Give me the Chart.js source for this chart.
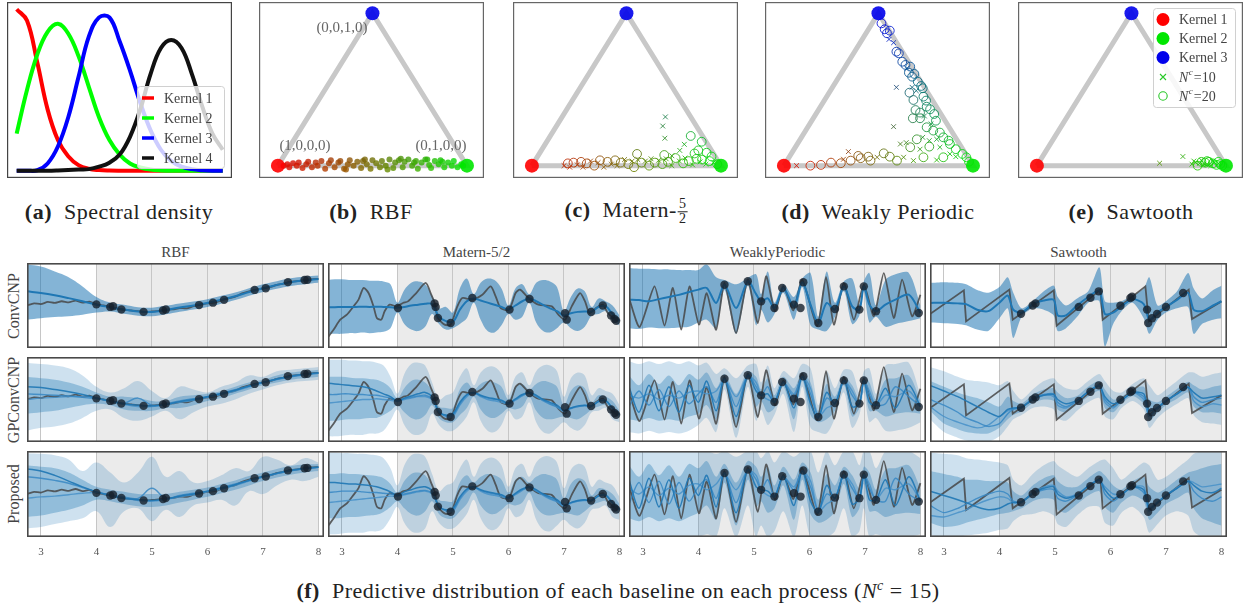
<!DOCTYPE html>
<html>
<head>
<meta charset="utf-8">
<script src="https://cdn.jsdelivr.net/npm/chart.js@4.4.1/dist/chart.umd.min.js"></script>
<style>
  body { margin: 0; width: 1246px; height: 604px; background: #fff; position: relative; overflow: hidden; font-family: "Liberation Serif", serif; }
  canvas { position: absolute; }
  .t { position: absolute; transform: translate(-50%, -50%); white-space: nowrap; color: #222; }
  .cap { font-size: 22px; letter-spacing: 0.5px; }
  .ttl { font-size: 15px; color: #444; }
  .row { font-size: 16px; color: #444; transform: translate(-50%, -50%) rotate(-90deg); }
  .vlab { font-size: 15px; color: #666; }
  .frac { display: inline-block; vertical-align: middle; text-align: center; font-size: 14px; line-height: 14px; margin-left: 1px; }
  .frac span { display: block; }
  .frac span:first-child { border-bottom: 1px solid #222; padding: 0 1px; }
</style>
</head>
<body>
<script>
// ---------- (a) spectral density ----------
const specX = [0, 0.05, 0.1, 0.15, 0.2, 0.25, 0.3, 0.35, 0.4, 0.45, 0.5, 0.55, 0.6, 0.65, 0.7, 0.75, 0.8, 0.85, 0.9, 0.95, 1.0];
const specK1 = [1.0, 0.93, 0.67, 0.38, 0.19, 0.09, 0.035, 0.012, 0.004, 0.001, 0, 0, 0, 0, 0, 0, 0, 0, 0, 0, 0];
const specK2 = [0.23, 0.5, 0.72, 0.86, 0.91, 0.85, 0.71, 0.52, 0.33, 0.19, 0.1, 0.045, 0.02, 0.007, 0.002, 0, 0, 0, 0, 0, 0];
const specK3 = [0, 0, 0.003, 0.045, 0.15, 0.33, 0.58, 0.83, 0.95, 0.95, 0.8, 0.62, 0.42, 0.25, 0.13, 0.06, 0.025, 0.01, 0.003, 0, 0];
const specK4 = [0, 0, 0, 0, 0.002, 0.005, 0.008, 0.01, 0.025, 0.05, 0.1, 0.21, 0.38, 0.6, 0.76, 0.81, 0.76, 0.6, 0.4, 0.23, 0.13];
const kernelNames = ['Kernel 1', 'Kernel 2', 'Kernel 3', 'Kernel 4'];

// ---------- (b)-(e) simplex scatter ----------
const cornerX = [0, 1, 0.5];
const cornerY = [0, 0, 1];
const edgeX = [0, 0.5, 1, 0];
const edgeY = [0, 1, 0, 0];
const vertexLabels = ['(1,0,0,0)', '(0,1,0,0)', '(0,0,1,0)'];

const rbfSimX = [0.03, 0.05, 0.06, 0.08, 0.1, 0.11, 0.13, 0.15, 0.16, 0.18, 0.2, 0.21, 0.23, 0.25, 0.27, 0.28, 0.3, 0.32, 0.33, 0.35, 0.37, 0.38, 0.4, 0.42, 0.44, 0.45, 0.47, 0.49, 0.5, 0.52, 0.54, 0.55, 0.57, 0.59, 0.61, 0.62, 0.64, 0.66, 0.67, 0.69, 0.71, 0.73, 0.74, 0.76, 0.78, 0.8, 0.81, 0.83, 0.85, 0.86, 0.88, 0.9, 0.92, 0.93, 0.95, 0.97, 0.98, 0.36, 0.46, 0.58, 0.65, 0.72, 0.79, 0.87];
const rbfSimY = [0.0, 0.01, -0.01, 0.015, 0.0, 0.02, -0.015, 0.01, 0.025, -0.01, 0.02, 0.0, 0.03, -0.02, 0.015, 0.035, -0.01, 0.02, 0.03, -0.02, 0.01, 0.035, 0.0, 0.025, -0.015, 0.03, 0.01, -0.02, 0.035, 0.015, -0.01, 0.03, 0.0, 0.04, -0.015, 0.02, 0.035, -0.01, 0.025, 0.04, 0.0, 0.03, -0.02, 0.02, 0.04, 0.005, -0.015, 0.03, 0.01, 0.035, -0.01, 0.02, 0.0, 0.03, -0.01, 0.01, 0.0, -0.025, 0.04, -0.025, 0.045, 0.02, 0.04, 0.025];

const matSimX = [0.17, 0.19, 0.2, 0.22, 0.24, 0.26, 0.27, 0.29, 0.31, 0.33, 0.35, 0.36, 0.38, 0.4, 0.42, 0.44, 0.45, 0.47, 0.49, 0.51, 0.53, 0.54, 0.56, 0.58, 0.6, 0.62, 0.63, 0.65, 0.67, 0.69, 0.71, 0.72, 0.74, 0.76, 0.78, 0.8, 0.81, 0.83, 0.85, 0.87, 0.89, 0.9, 0.92, 0.94, 0.96, 0.98,
  0.706, 0.692, 0.703, 0.806, 0.782, 0.556, 0.70, 0.84, 0.898, 0.88, 0.924, 0.95, 0.74, 0.86];
const matSimY = [0.0, 0.015, -0.01, 0.02, 0.005, 0.025, -0.01, 0.015, 0.03, 0.0, 0.02, 0.035, -0.01, 0.025, 0.01, 0.035, 0.0, 0.02, 0.04, 0.01, 0.03, -0.01, 0.04, 0.02, 0.03, 0.0, 0.045, 0.02, 0.035, 0.01, 0.045, 0.025, 0.0, 0.05, 0.03, 0.015, 0.05, 0.03, 0.005, 0.045, 0.025, 0.04, 0.01, 0.03, 0.02, 0.01,
  0.32, 0.26, 0.18, 0.14, 0.1, 0.077, 0.07, 0.195, 0.157, 0.10, 0.085, 0.06, 0.065, 0.08];
const matSimN = [10, 20, 10, 20, 10, 20, 10, 20, 10, 20, 10, 20, 10, 20, 10, 20, 10, 20, 10, 20, 10, 20, 10, 20, 10, 20, 10, 20, 10, 20, 10, 20, 10, 20, 10, 20, 10, 20, 10, 20, 10, 20, 10, 20, 10, 20,
  10, 10, 10, 10, 10, 20, 20, 20, 20, 20, 20, 20, 10, 20];

const wpSimX = [0.516, 0.533, 0.545, 0.56, 0.556, 0.58, 0.595, 0.608, 0.626, 0.643, 0.65, 0.668, 0.661, 0.678, 0.69, 0.708, 0.726, 0.734, 0.7, 0.678,
  0.664, 0.595, 0.738, 0.752, 0.685, 0.696, 0.72, 0.755, 0.773, 0.795, 0.743, 0.72, 0.682, 0.804, 0.778, 0.58, 0.755, 0.79, 0.825, 0.843,
  0.871, 0.808, 0.769, 0.734, 0.703, 0.647, 0.616, 0.668, 0.72, 0.769, 0.825, 0.878, 0.909, 0.944, 0.965, 0.878, 0.843, 0.808, 0.738, 0.685,
  0.633, 0.598, 0.56, 0.528, 0.493, 0.458, 0.406, 0.353, 0.341, 0.301, 0.249, 0.196, 0.14, 0.067, 0.315, 0.393, 0.446, 0.909, 0.979];
const wpSimY = [0.934, 0.895, 0.869, 0.886, 0.829, 0.807, 0.748, 0.737, 0.682, 0.661, 0.639, 0.65, 0.61, 0.584, 0.602, 0.551, 0.523, 0.508, 0.492, 0.514,
  0.479, 0.514, 0.453, 0.427, 0.431, 0.365, 0.348, 0.387, 0.37, 0.339, 0.326, 0.311, 0.311, 0.295, 0.274, 0.256, 0.252, 0.23, 0.217, 0.186,
  0.164, 0.173, 0.164, 0.186, 0.173, 0.151, 0.142, 0.121, 0.108, 0.125, 0.121, 0.142, 0.108, 0.077, 0.055, 0.077, 0.055, 0.037, 0.055, 0.033,
  0.055, 0.033, 0.059, 0.081, 0.055, 0.033, 0.049, 0.033, 0.092, 0.016, 0.02, 0.005, 0.0, 0.0, 0.042, 0.064, 0.059, 0.059, 0.026];
const wpSimN = [20, 20, 20, 20, 10, 10, 20, 20, 20, 20, 10, 20, 20, 20, 20, 20, 20, 20, 10, 10,
  20, 10, 20, 20, 20, 20, 20, 20, 20, 20, 10, 20, 20, 20, 10, 10, 20, 20, 20, 20,
  20, 10, 10, 10, 20, 10, 10, 20, 10, 20, 10, 20, 20, 20, 20, 10, 20, 10, 20, 10,
  10, 20, 20, 20, 10, 20, 20, 20, 10, 20, 20, 20, 20, 10, 10, 20, 20, 10, 20];

const sawSimX = [0.649, 0.772, 0.82, 0.84, 0.85, 0.86, 0.87, 0.88, 0.89, 0.9, 0.91, 0.92, 0.93, 0.94, 0.95, 0.96, 0.97, 0.98, 0.83, 0.87, 0.9, 0.93, 0.96];
const sawSimY = [0.016, 0.06, 0.01, 0.02, 0.0, 0.015, 0.025, 0.005, 0.02, 0.01, 0.025, 0.0, 0.015, 0.02, 0.005, 0.015, 0.01, 0.0, 0.03, 0.035, 0.03, 0.03, 0.025];
const sawSimN = [10, 10, 10, 10, 20, 10, 20, 10, 20, 10, 20, 10, 20, 10, 20, 10, 20, 20, 10, 10, 20, 10, 20];
const simLegendN = [10, 20];

// ---------- (f) predictive distributions ----------
const shadeFrom = 4, shadeTo = 8;

// RBF
const rbfX = [2.75, 3, 3.25, 3.5, 3.75, 4, 4.25, 4.5, 4.75, 5, 5.25, 5.5, 5.75, 6, 6.25, 6.5, 6.75, 7, 7.25, 7.5, 7.75, 8];
const fineX = [2.75, 2.875, 3, 3.125, 3.25, 3.375, 3.5, 3.625, 3.75, 3.875, 4, 4.125, 4.25, 4.375, 4.5, 4.625, 4.75, 4.875, 5, 5.125, 5.25, 5.375, 5.5, 5.625, 5.75, 5.875, 6, 6.125, 6.25, 6.375, 6.5, 6.625, 6.75, 6.875, 7, 7.125, 7.25, 7.375, 7.5, 7.625, 7.75, 7.875, 8];
const rbfTruth = [0.0, 0.15, 0.1, 0.25, 0.18, 0.3, 0.22, 0.35, 0.2, 0.28, 0.08, 0.0, -0.1, -0.22, -0.3, -0.34, -0.4, -0.45, -0.42, -0.38, -0.3, -0.28, -0.18, -0.2, -0.05, 0.05, 0.15, 0.2, 0.35, 0.5, 0.62, 0.85, 1.0, 1.12, 1.2, 1.3, 1.45, 1.55, 1.68, 1.72, 1.8, 1.85, 1.88];
const rbfCtxX = [4.0, 4.25, 4.3, 4.45, 4.85, 5.2, 5.25, 5.85, 6.1, 6.3, 6.85, 7.05, 7.45, 7.75, 7.8];
const rbfCtxY = [0.08, -0.1, -0.05, -0.28, -0.45, -0.35, -0.28, 0.03, 0.2, 0.4, 1.1, 1.22, 1.65, 1.8, 1.82];
const rbfConvMean = [1.0, 0.88, 0.72, 0.52, 0.3, 0.06, -0.12, -0.28, -0.42, -0.46, -0.32, -0.14, 0.0, 0.18, 0.4, 0.65, 0.95, 1.22, 1.45, 1.65, 1.78, 1.87];
const rbfConvHi = [2.9, 2.75, 2.4, 2.0, 1.35, 0.6, 0.2, 0.05, -0.12, -0.15, -0.02, 0.14, 0.28, 0.45, 0.68, 0.92, 1.22, 1.5, 1.72, 1.92, 2.05, 2.12];
const rbfConvLo = [-1.0, -0.9, -0.82, -0.76, -0.65, -0.5, -0.42, -0.58, -0.72, -0.76, -0.62, -0.44, -0.28, -0.1, 0.12, 0.38, 0.68, 0.95, 1.18, 1.38, 1.5, 1.6];
const rbfGpOutHi = [2.6, 2.5, 2.4, 2.2, 1.7, 0.9, 0.5, 0.8, 1.3, 0.6, 0.1, 0.9, 0.7, 0.5, 0.9, 1.2, 1.7, 1.6, 2.0, 2.1, 2.2, 2.3];
const rbfGpOutLo = [-2.2, -2.0, -1.9, -1.7, -1.3, -0.8, -0.7, -1.3, -1.5, -1.2, -0.8, -1.4, -0.9, -0.5, -0.3, 0.0, 0.4, 0.7, 1.0, 1.2, 1.3, 1.4];
const rbfGpInHi = [1.6, 1.5, 1.4, 1.2, 0.9, 0.5, 0.2, 0.2, 0.1, -0.1, -0.1, 0.2, 0.3, 0.4, 0.6, 0.9, 1.2, 1.4, 1.7, 1.9, 2.0, 2.1];
const rbfGpInLo = [-1.0, -0.9, -0.8, -0.6, -0.4, -0.3, -0.4, -0.7, -0.8, -0.8, -0.6, -0.6, -0.4, -0.1, 0.1, 0.4, 0.7, 1.0, 1.2, 1.4, 1.5, 1.6];
const rbfGpS1 = [0.9, 0.85, 0.7, 0.55, 0.35, 0.1, -0.1, -0.3, -0.4, -0.45, -0.35, -0.15, 0.0, 0.2, 0.4, 0.65, 0.95, 1.22, 1.45, 1.65, 1.78, 1.88];
const rbfGpS2 = [0.4, 0.35, 0.3, 0.25, 0.15, 0.05, -0.1, -0.25, 0.1, -0.4, -0.3, -0.1, 0.05, 0.2, 0.45, 0.7, 0.95, 1.2, 1.4, 1.6, 1.75, 1.85];
const rbfGpS3 = [0.0, 0.1, 0.15, 0.2, 0.2, 0.1, -0.15, -0.35, -0.5, -0.5, -0.35, -0.2, -0.05, 0.15, 0.35, 0.6, 0.9, 1.2, 1.45, 1.62, 1.76, 1.86];
const rbfPrOutHi = [2.85, 2.8, 2.7, 2.4, 1.6, 2.2, 1.5, 0.8, 1.5, 2.6, 1.2, 1.6, 0.8, 0.9, 1.3, 1.8, 1.6, 2.6, 2.4, 2.0, 2.5, 2.2];
const rbfPrOutLo = [-2.4, -2.3, -2.1, -1.9, -1.7, -1.2, -2.3, -1.2, -1.0, -1.9, -1.1, -1.6, -0.8, -0.6, -0.4, -0.8, 0.2, 0.0, 0.6, 1.0, 0.9, 1.2];
const rbfPrInHi = [2.0, 1.9, 1.8, 1.5, 1.0, 0.5, 0.3, 0.15, 0.0, 0.0, 0.0, 0.15, 0.3, 0.45, 0.7, 0.95, 1.25, 1.5, 1.75, 1.95, 2.05, 2.1];
const rbfPrInLo = [-1.6, -1.5, -1.3, -1.1, -0.8, -0.4, -0.5, -0.7, -0.85, -0.9, -0.8, -0.6, -0.4, -0.2, 0.05, 0.3, 0.6, 0.9, 1.15, 1.35, 1.5, 1.6];
const rbfPrS1 = [1.75, 1.6, 1.3, 0.9, 0.5, 0.15, -0.1, -0.3, -0.4, -0.45, -0.35, -0.15, 0.0, 0.2, 0.4, 0.65, 0.95, 1.22, 1.45, 1.65, 1.78, 1.88];
const rbfPrS2 = [1.2, 1.1, 0.95, 0.75, 0.45, 0.15, -0.05, -0.2, -0.3, 0.4, -0.3, -0.1, 0.05, 0.2, 0.45, 0.7, 0.95, 1.2, 1.42, 1.62, 1.76, 1.86];
const rbfPrS3 = [-0.3, -0.2, -0.15, -0.05, 0.05, 0.1, -0.1, -0.3, -0.45, -0.5, -0.38, -0.2, -0.05, 0.15, 0.35, 0.6, 0.9, 1.18, 1.42, 1.62, 1.76, 1.86];

// Matern-5/2
const matTruthX = [2.76, 2.85, 2.97, 3.09, 3.21, 3.3, 3.39, 3.48, 3.57, 3.63, 3.71, 3.77, 3.86, 3.99, 4.1, 4.19, 4.34, 4.51, 4.61, 4.67, 4.73, 4.85, 4.96, 5.08, 5.17, 5.35, 5.53, 5.68, 5.77, 5.86, 6.01, 6.13, 6.21, 6.36, 6.54, 6.78, 6.9, 7.02, 7.14, 7.29, 7.38, 7.46, 7.58, 7.7, 7.79, 7.97];
const matTruthY = [-2.18, -1.71, -1.0, -0.65, -0.06, 0.41, 1.24, 0.88, -0.06, -0.88, -1.0, -0.41, 0.06, -0.06, 0.18, 0.29, 0.88, 1.59, 0.76, 0.18, -0.88, -1.35, -1.35, -0.06, 0.53, 0.41, 0.76, 1.35, 0.65, -0.18, -0.29, 0.88, 1.12, 0.53, 0.06, -0.06, -0.65, -1.0, -0.06, 0.88, 0.29, -0.53, -0.18, 0.06, -0.53, -1.12];
const matCtxX = [4.01, 4.67, 4.69, 4.73, 4.96, 5.35, 6.02, 6.38, 7.02, 7.05, 7.49, 7.7, 7.85, 7.91, 7.94];
const matCtxY = [-0.18, 0.15, -0.1, -0.88, -1.24, 0.53, -0.29, 0.46, -0.55, -1.0, -0.46, 0.0, -0.7, -0.95, -1.08];
const matConvMean = [-0.13, -0.12, -0.1, -0.1, -0.1, -0.08, -0.1, -0.08, -0.1, -0.12, -0.15, -0.1, 0.0, 0.05, 0.12, 0.1, -0.8, -1.1, -1.15, -0.3, 0.3, 0.5, 0.35, 0.2, 0.05, -0.1, -0.28, 0.0, 0.3, 0.5, 0.3, 0.05, -0.2, -0.4, -0.7, -0.55, -0.45, -0.42, -0.42, -0.1, -0.05, -0.6, -1.1];
const matConvHi = [1.8, 1.85, 1.85, 1.8, 1.8, 1.8, 1.75, 1.75, 1.7, 1.5, 0.2, 1.1, 1.6, 1.7, 1.5, 0.7, -0.2, -0.1, -0.5, 1.2, 1.9, 0.8, 1.6, 1.9, 1.8, 1.2, 0.0, 1.2, 1.5, 0.8, 1.6, 1.8, 1.7, 1.3, -0.4, 0.6, 1.2, 1.0, -0.1, 0.5, 0.3, 0.0, -0.7];
const matConvLo = [-2.0, -2.0, -2.0, -1.95, -1.95, -1.9, -1.95, -1.9, -1.85, -1.6, -0.5, -1.3, -1.7, -1.8, -1.5, -0.6, -1.3, -1.7, -1.6, -1.3, -0.9, 0.2, -1.0, -1.8, -1.9, -1.4, -0.6, -1.0, -0.8, 0.2, -1.2, -1.8, -1.9, -1.6, -1.2, -1.6, -1.8, -1.5, -0.7, -0.6, -0.4, -1.1, -1.4];
const matGpOutHi = [2.8, 2.8, 2.8, 2.75, 2.75, 2.7, 2.7, 2.6, 2.4, 1.6, 0.4, 1.8, 2.5, 2.6, 2.4, 1.2, 0.0, 0.3, 0.5, 1.6, 2.2, 1.0, 1.9, 2.3, 2.3, 1.8, 0.3, 1.6, 1.9, 1.0, 2.0, 2.4, 2.4, 2.0, 0.2, 1.5, 1.9, 1.7, 0.3, 0.8, 0.6, 0.4, -0.4];
const matGpOutLo = [-2.6, -2.6, -2.55, -2.5, -2.5, -2.5, -2.4, -2.4, -2.2, -1.5, -0.7, -1.8, -2.4, -2.5, -2.2, -1.0, -1.8, -2.2, -2.2, -1.8, -1.2, -0.2, -1.5, -2.2, -2.3, -1.8, -0.8, -1.4, -1.2, -0.2, -1.6, -2.3, -2.4, -2.0, -1.6, -2.0, -2.2, -1.8, -0.9, -0.8, -0.6, -1.4, -1.6];
const matGpInHi = [1.6, 1.6, 1.6, 1.55, 1.5, 1.5, 1.45, 1.4, 1.2, 0.8, 0.1, 0.8, 1.3, 1.4, 1.2, 0.6, -0.5, -0.6, -0.6, 0.7, 1.2, 0.7, 1.1, 1.3, 1.2, 0.9, 0.0, 0.9, 1.1, 0.7, 1.1, 1.3, 1.2, 0.9, -0.4, 0.6, 1.0, 0.8, -0.2, 0.3, 0.2, -0.1, -0.8];
const matGpInLo = [-1.5, -1.5, -1.45, -1.4, -1.4, -1.35, -1.3, -1.3, -1.1, -0.8, -0.4, -0.9, -1.3, -1.4, -1.1, -0.4, -1.3, -1.6, -1.6, -1.1, -0.6, 0.2, -0.7, -1.2, -1.3, -1.0, -0.6, -0.7, -0.5, 0.2, -0.8, -1.3, -1.4, -1.3, -1.2, -1.3, -1.4, -1.1, -0.7, -0.5, -0.4, -1.0, -1.3];
const matGpS1 = [1.15, 1.1, 1.05, 1.0, 0.95, 0.9, 0.8, 0.6, 0.4, 0.2, -0.1, 0.1, 0.25, 0.4, 0.5, 0.2, -0.9, -1.1, -1.0, -0.2, 0.35, 0.5, 0.3, 0.15, 0.05, -0.05, -0.25, 0.05, 0.35, 0.5, 0.3, 0.0, -0.2, -0.4, -0.75, -0.6, -0.45, -0.4, -0.45, -0.15, -0.1, -0.6, -1.05];
const matGpS2 = [0.35, 0.35, 0.4, 0.4, 0.35, 0.35, 0.3, 0.3, 0.2, 0.1, -0.1, 0.05, 0.15, 0.25, 0.3, 0.05, -0.85, -1.15, -1.1, -0.3, 0.3, 0.45, 0.25, 0.1, 0.0, -0.1, -0.3, 0.0, 0.3, 0.45, 0.2, -0.05, -0.3, -0.5, -0.8, -0.6, -0.5, -0.42, -0.45, -0.1, -0.05, -0.6, -1.1];
const matGpS3 = [-0.25, -0.2, -0.15, -0.1, -0.05, 0.0, 0.0, 0.05, 0.0, -0.05, -0.15, 0.0, 0.1, 0.2, 0.2, 0.0, -0.8, -1.2, -1.2, -0.4, 0.2, 0.5, 0.2, 0.0, -0.1, -0.2, -0.3, -0.05, 0.25, 0.5, 0.25, -0.1, -0.35, -0.55, -0.85, -0.65, -0.5, -0.45, -0.45, -0.12, -0.08, -0.62, -1.1];
const matPrOutHi = [2.9, 2.9, 2.85, 2.85, 2.8, 2.8, 2.75, 2.7, 2.5, 1.8, 0.6, 2.0, 2.7, 2.8, 2.6, 1.4, 0.2, 0.6, 0.8, 1.8, 2.4, 1.2, 2.1, 2.5, 2.5, 2.0, 0.5, 1.8, 2.1, 1.2, 2.2, 2.6, 2.6, 2.2, 0.4, 1.7, 2.1, 1.9, 0.5, 1.0, 0.8, 0.6, -0.2];
const matPrOutLo = [-2.8, -2.8, -2.75, -2.7, -2.7, -2.7, -2.6, -2.6, -2.4, -1.7, -0.9, -2.0, -2.6, -2.7, -2.4, -1.2, -2.0, -2.4, -2.4, -2.0, -1.4, -0.4, -1.7, -2.4, -2.5, -2.0, -1.0, -1.6, -1.4, -0.4, -1.8, -2.5, -2.6, -2.2, -1.8, -2.2, -2.4, -2.0, -1.1, -1.0, -0.8, -1.6, -1.8];
const matPrInHi = [1.4, 1.4, 1.45, 1.4, 1.4, 1.35, 1.3, 1.25, 1.1, 0.7, 0.1, 0.9, 1.4, 1.5, 1.3, 0.6, -0.4, -0.5, -0.5, 0.8, 1.3, 0.8, 1.2, 1.4, 1.3, 1.0, 0.1, 1.0, 1.2, 0.8, 1.2, 1.4, 1.3, 1.0, -0.3, 0.7, 1.1, 0.9, -0.1, 0.4, 0.3, 0.0, -0.7];
const matPrInLo = [-1.7, -1.7, -1.65, -1.6, -1.6, -1.55, -1.5, -1.45, -1.25, -0.9, -0.5, -1.0, -1.4, -1.5, -1.2, -0.5, -1.4, -1.7, -1.7, -1.2, -0.7, 0.1, -0.8, -1.3, -1.4, -1.1, -0.7, -0.8, -0.6, 0.1, -0.9, -1.4, -1.5, -1.4, -1.3, -1.4, -1.5, -1.2, -0.8, -0.6, -0.5, -1.1, -1.4];
const matPrS1 = [0.8, 0.8, 0.75, 0.7, 0.7, 0.65, 0.6, 0.5, 0.35, 0.15, -0.1, 0.15, 0.3, 0.45, 0.5, 0.2, -0.9, -1.1, -1.0, -0.2, 0.35, 0.5, 0.3, 0.15, 0.05, -0.05, -0.25, 0.05, 0.35, 0.5, 0.3, 0.0, -0.2, -0.4, -0.75, -0.6, -0.45, -0.4, -0.45, -0.15, -0.1, -0.6, -1.05];
const matPrS2 = [0.1, 0.15, 0.2, 0.2, 0.2, 0.15, 0.1, 0.1, 0.05, 0.0, -0.1, 0.0, 0.1, 0.2, 0.25, 0.05, -0.85, -1.15, -1.1, -0.3, 0.3, 0.45, 0.25, 0.1, 0.0, -0.1, -0.3, 0.0, 0.3, 0.45, 0.2, -0.05, -0.3, -0.5, -0.8, -0.6, -0.5, -0.42, -0.45, -0.1, -0.05, -0.6, -1.1];
const matPrS3 = [-0.6, -0.55, -0.5, -0.45, -0.4, -0.35, -0.3, -0.25, -0.2, -0.15, -0.15, -0.05, 0.05, 0.15, 0.2, 0.0, -0.8, -1.2, -1.2, -0.4, 0.2, 0.5, 0.2, 0.0, -0.1, -0.2, -0.3, -0.05, 0.25, 0.5, 0.25, -0.1, -0.35, -0.55, -0.85, -0.65, -0.5, -0.45, -0.45, -0.12, -0.08, -0.62, -1.1];

// WeaklyPeriodic
const wpTruthX = [2.75, 2.94, 3.21, 3.39, 3.54, 3.69, 3.84, 4.01, 4.15, 4.32, 4.47, 4.68, 4.89, 5.07, 5.22, 5.38, 5.53, 5.71, 5.87, 6.14, 6.3, 6.44, 6.62, 6.8, 6.98, 7.16, 7.34, 7.52, 7.67, 7.85, 8.0];
const wpTruthY = [0.53, -1.52, 1.35, -1.42, 1.24, -1.71, 1.35, -1.35, 0.88, -1.71, 1.59, -1.94, 1.82, -1.24, 2.06, -0.41, 1.35, -0.35, 1.82, -1.45, 2.0, -1.35, 1.59, -1.0, 1.47, -0.76, 2.29, -0.88, 1.82, -0.76, 0.76];
const wpCtxX = [4.47, 4.89, 5.13, 5.37, 5.51, 5.72, 5.84, 5.89, 6.16, 6.46, 6.62, 6.9, 6.98, 7.2, 7.97];
const wpCtxY = [1.47, 1.71, 0.29, -0.18, 1.24, 0.06, -0.18, 1.64, -1.24, -0.25, 1.35, -0.29, 1.35, -0.41, -0.53];
const wpX = [2.75, 2.93, 3.11, 3.29, 3.47, 3.65, 3.83, 4.0, 4.15, 4.32, 4.47, 4.68, 4.89, 5.04, 5.13, 5.25, 5.37, 5.53, 5.72, 5.87, 6.02, 6.16, 6.31, 6.46, 6.62, 6.77, 6.9, 6.98, 7.08, 7.2, 7.37, 7.55, 7.79, 8.0];
const wpConvMean = [0.41, 0.38, 0.3, 0.45, 0.6, 0.75, 0.95, 1.12, 1.24, 0.18, 1.47, -0.18, 1.71, 0.8, 0.29, 0.5, -0.18, 1.24, -0.06, 1.64, 0.06, -1.24, 0.18, -0.29, 1.35, -0.06, -0.29, 1.35, 0.06, -0.41, 0.06, 0.41, 0.76, -0.53];
const wpConvHi = [2.65, 2.6, 2.6, 2.55, 2.55, 2.5, 2.5, 2.5, 2.9, 2.0, 1.8, 1.5, 1.95, 2.2, 0.8, 2.4, 0.2, 1.5, 0.6, 1.9, 2.3, -0.8, 2.4, 0.2, 1.7, 1.9, 0.1, 1.7, 2.3, 0.0, 1.8, 2.2, 2.3, 0.0];
const wpConvLo = [-1.6, -1.65, -1.55, -1.6, -1.6, -1.55, -1.5, -1.2, -1.0, -1.6, 1.1, -2.0, 1.4, -1.4, -0.3, -1.2, -0.6, 0.9, -1.0, 1.3, -1.4, -1.7, -1.8, -0.8, 1.0, -1.3, -0.7, 1.0, -1.2, -0.8, -1.5, -1.3, -1.1, -0.9];
const wpGpOutHi = [2.7, 2.5, 2.7, 2.5, 2.7, 2.5, 2.7, 2.4, 2.6, 1.8, 2.2, 1.5, 2.4, 2.5, 1.2, 2.4, 0.8, 2.0, 1.5, 2.5, 2.2, -0.4, 2.0, 0.8, 2.1, 2.0, 0.5, 2.0, 2.2, 0.4, 2.4, 2.5, 2.6, 0.3];
const wpGpOutLo = [-2.3, -2.4, -2.2, -2.4, -2.3, -2.4, -2.2, -1.8, -1.3, -2.3, 0.7, -2.7, 0.9, -1.5, -0.7, -1.8, -1.1, 0.4, -2.3, 0.9, -2.0, -2.3, -2.4, -1.3, 0.5, -2.0, -1.1, 0.5, -1.6, -1.3, -2.2, -2.2, -2.0, -1.6];
const wpGpInHi = [1.7, 1.0, 1.8, 1.1, 1.7, 1.0, 1.8, 1.4, 1.9, 0.8, 1.8, 0.4, 2.0, 1.6, 0.7, 1.5, 0.3, 1.6, 0.8, 1.9, 1.2, -0.8, 1.1, 0.2, 1.6, 1.0, 0.0, 1.6, 1.2, 0.0, 1.4, 1.5, 1.7, -0.1];
const wpGpInLo = [-1.4, -1.5, -1.3, -1.5, -1.4, -1.5, -1.2, -1.0, -0.4, -1.4, 1.1, -1.8, 1.4, -0.5, -0.1, -0.9, -0.6, 0.9, -1.4, 1.3, -1.1, -1.6, -1.4, -0.8, 1.0, -1.2, -0.6, 1.0, -0.8, -0.8, -1.2, -1.0, -0.9, -1.0];
const wpGpS1 = [0.9, -0.9, 1.0, -0.8, 0.9, -0.9, 1.0, -0.2, 1.3, -0.8, 1.5, -1.2, 1.7, 0.6, 0.3, 0.4, -0.2, 1.25, -0.6, 1.6, -0.3, -1.3, 0.5, -0.3, 1.35, -0.5, -0.3, 1.35, -0.2, -0.4, 0.8, -0.6, 1.0, -0.5];
const wpGpS2 = [-0.5, 0.6, -0.4, 0.7, -0.5, 0.6, -0.3, 0.4, 0.9, -0.2, 1.45, -0.5, 1.7, 0.9, 0.3, 0.9, -0.2, 1.2, 0.2, 1.6, 0.4, -1.2, 0.1, -0.25, 1.3, 0.3, -0.3, 1.3, 0.3, -0.4, -0.3, 0.9, 0.2, -0.5];
const wpGpS3 = [0.3, 0.1, 0.4, 0.0, 0.3, 0.1, 0.5, 0.6, 0.4, 0.6, 1.4, 0.2, 1.65, 1.2, 0.3, 0.0, -0.15, 1.2, 0.4, 1.6, 0.8, -1.2, -0.6, -0.3, 1.3, 0.6, -0.3, 1.3, 0.6, -0.4, 0.3, 0.2, 0.6, -0.5];
const wpPrOutHi = [3.0, 3.0, 3.0, 3.0, 3.0, 3.0, 3.0, 3.0, 3.0, 2.8, 3.0, 2.6, 3.0, 3.0, 2.5, 3.0, 2.2, 3.0, 2.6, 3.0, 3.0, 1.5, 3.0, 2.0, 3.0, 3.0, 2.0, 3.0, 3.0, 1.8, 3.0, 3.0, 3.0, 2.5];
const wpPrOutLo = [-3.0, -3.0, -3.0, -3.0, -3.0, -3.0, -3.0, -3.0, -2.8, -3.0, -1.0, -3.0, -0.8, -3.0, -2.2, -3.0, -2.6, -1.2, -3.0, -0.8, -3.0, -3.0, -3.0, -2.6, -1.0, -3.0, -2.6, -1.0, -3.0, -2.8, -3.0, -3.0, -3.0, -2.8];
const wpPrInHi = [2.0, 1.2, 2.1, 1.3, 2.0, 1.2, 2.1, 1.8, 2.3, 1.2, 2.1, 0.8, 2.3, 1.9, 1.2, 1.9, 0.6, 1.9, 1.0, 2.2, 1.5, -0.4, 1.4, 0.6, 1.9, 1.3, 0.4, 1.9, 1.5, 0.3, 1.7, 1.8, 2.0, 0.4];
const wpPrInLo = [-1.7, -1.9, -1.6, -1.9, -1.7, -1.9, -1.6, -1.3, -0.8, -1.8, 0.8, -2.2, 1.0, -0.9, -0.5, -1.3, -1.0, 0.6, -1.8, 1.0, -1.4, -2.0, -1.8, -1.2, 0.7, -1.6, -1.0, 0.7, -1.2, -1.2, -1.6, -1.4, -1.3, -1.4];
const wpPrS1 = [1.0, -1.0, 1.1, -0.9, 1.0, -1.0, 1.1, -0.1, 1.3, -0.9, 1.5, -1.3, 1.7, 0.5, 0.3, 0.2, -0.2, 1.25, -0.8, 1.6, -0.5, -1.3, 0.6, -0.3, 1.35, -0.7, -0.3, 1.35, -0.4, -0.4, 1.0, -0.8, 1.2, -0.5];
const wpPrS2 = [-0.7, 0.8, -0.6, 0.9, -0.7, 0.8, -0.5, 0.5, 1.0, -0.3, 1.45, -0.6, 1.7, 1.0, 0.3, 1.0, -0.2, 1.2, 0.3, 1.6, 0.5, -1.2, 0.0, -0.25, 1.3, 0.4, -0.3, 1.3, 0.4, -0.4, -0.5, 1.1, 0.0, -0.5];
const wpPrS3 = [0.4, 0.0, 0.5, -0.1, 0.4, 0.0, 0.6, 0.7, 0.3, 0.7, 1.4, 0.3, 1.65, 1.3, 0.3, -0.1, -0.15, 1.2, 0.5, 1.6, 0.9, -1.2, -0.7, -0.3, 1.3, 0.7, -0.3, 1.3, 0.7, -0.4, 0.4, 0.3, 0.7, -0.5];

// Sawtooth
const sawTruthX = [2.75, 3.36, 3.4, 4.18, 4.24, 4.98, 5.03, 5.82, 5.86, 6.63, 6.69, 7.41, 7.47, 8.0];
const sawTruthY = [-0.6, 1.07, -1.12, 1.12, -1.0, 1.07, -1.42, 1.12, -1.0, 1.35, -1.12, 1.12, -0.95, 0.29];
const sawCtxX = [4.39, 4.6, 4.65, 5.43, 5.64, 5.79, 6.18, 6.36, 6.39, 6.66, 6.68, 6.75, 6.84, 7.0, 7.31];
const sawCtxY = [-0.58, 0.0, 0.15, -0.1, 0.55, 1.0, -0.02, 0.53, 0.62, -0.29, -1.24, -0.9, -0.6, -0.1, 0.88];
const sawX = [2.75, 3.0, 3.25, 3.4, 3.6, 3.8, 4.0, 4.15, 4.25, 4.4, 4.6, 4.8, 4.98, 5.05, 5.2, 5.4, 5.6, 5.8, 5.9, 6.05, 6.2, 6.4, 6.6, 6.7, 6.85, 7.0, 7.2, 7.4, 7.5, 7.65, 7.85, 8.0];
const sawConvMean = [0.18, 0.2, 0.15, 0.1, -0.3, -0.4, 0.2, 0.7, -0.3, -0.5, 0.1, 0.35, 0.4, -0.7, -0.7, 0.0, 0.6, 1.05, -0.6, -0.5, -0.05, 0.45, 0.1, -1.0, -0.5, -0.1, 0.4, 0.9, -0.3, -0.4, 0.0, 0.3];
const sawConvHi = [1.6, 1.65, 1.6, 1.5, 1.1, 0.9, 1.3, 2.0, 0.9, -0.2, 0.3, 1.0, 1.4, 0.6, 0.0, 0.5, 1.0, 2.7, 0.3, 0.2, 0.3, 0.7, 1.2, 2.0, 0.0, 0.3, 1.0, 2.3, 1.2, 0.5, 1.1, 1.4];
const sawConvLo = [-1.2, -1.25, -1.3, -1.4, -1.7, -1.8, -0.9, -0.2, -2.3, -0.8, -0.2, -0.3, -0.7, -1.8, -1.6, -0.8, 0.2, 0.3, -2.9, -1.3, -0.4, 0.2, -0.9, -2.0, -1.0, -0.5, -0.2, -0.1, -2.0, -1.3, -1.0, -0.9];
const sawGpOutHi = [2.3, 2.0, 1.6, 1.4, 1.3, 1.2, 1.0, 1.3, 0.6, 0.0, 0.7, 1.3, 1.5, 1.2, 0.8, 0.7, 1.3, 1.8, 1.3, 0.6, 0.5, 1.1, 1.5, 1.0, 0.3, 0.7, 1.3, 1.9, 1.9, 1.6, 1.8, 1.9];
const sawGpOutLo = [-1.4, -2.3, -2.7, -2.9, -3.0, -3.0, -2.6, -1.9, -1.4, -1.1, -0.6, -0.5, -0.7, -1.3, -1.5, -0.8, -0.2, 0.1, -1.2, -1.4, -0.6, -0.1, -0.7, -2.0, -1.3, -0.8, -0.3, 0.1, -1.1, -1.6, -1.7, -1.8];
const sawGpInHi = [1.3, 0.9, 0.5, 0.3, 0.1, -0.2, -0.5, 0.2, -0.1, -0.3, 0.35, 0.7, 0.8, 0.5, 0.1, 0.25, 0.9, 1.3, 0.7, 0.0, 0.2, 0.75, 0.9, 0.0, -0.2, 0.2, 0.75, 1.25, 1.0, 0.7, 0.9, 1.0];
const sawGpInLo = [-0.8, -1.7, -2.1, -2.3, -2.4, -2.4, -2.0, -1.4, -1.1, -0.85, -0.25, 0.0, -0.1, -0.7, -0.9, -0.35, 0.2, 0.6, -0.6, -0.9, -0.3, 0.25, -0.3, -1.5, -0.9, -0.4, 0.05, 0.5, -0.5, -0.9, -0.9, -1.0];
const sawGpS1 = [1.0, 0.6, 0.2, -0.1, -0.5, -0.9, -1.2, -0.7, -0.6, -0.55, 0.0, 0.3, 0.35, 0.0, -0.3, -0.05, 0.55, 0.95, 0.2, -0.3, -0.05, 0.5, 0.4, -0.8, -0.55, -0.1, 0.4, 0.85, 0.5, 0.1, 0.2, 0.3];
const sawGpS2 = [0.0, -0.4, -0.9, -1.3, -1.6, -1.9, -1.7, -1.0, -0.7, -0.58, 0.05, 0.35, 0.4, -0.2, -0.5, -0.1, 0.55, 1.0, 0.0, -0.5, -0.05, 0.5, 0.2, -1.1, -0.6, -0.1, 0.4, 0.9, 0.2, -0.2, 0.0, 0.1];
const sawGpS3 = [-0.5, -1.2, -1.6, -1.8, -2.0, -1.8, -1.2, -0.8, -0.65, -0.6, 0.1, 0.3, 0.2, -0.4, -0.6, -0.1, 0.55, 1.0, -0.2, -0.6, -0.05, 0.5, 0.0, -1.2, -0.6, -0.1, 0.4, 0.85, -0.1, -0.5, -0.3, -0.4];
const sawPrOutHi = [2.9, 2.8, 2.7, 2.5, 2.4, 2.3, 2.2, 2.0, 1.0, 0.6, 1.4, 2.0, 2.3, 2.0, 1.6, 1.2, 1.8, 2.3, 2.4, 1.8, 1.0, 1.6, 2.2, 2.0, 1.0, 1.2, 1.8, 2.4, 2.8, 3.0, 3.0, 3.0];
const sawPrOutLo = [-2.9, -3.0, -3.0, -2.9, -2.8, -2.7, -2.5, -2.4, -1.9, -1.5, -1.4, -1.2, -1.5, -2.1, -2.3, -1.5, -0.9, -0.9, -2.0, -2.2, -1.3, -0.9, -1.6, -2.7, -2.1, -1.5, -1.2, -1.5, -2.6, -3.0, -3.0, -3.0];
const sawPrInHi = [1.6, 1.4, 1.2, 1.0, 1.0, 0.9, 0.9, 0.8, 0.2, -0.1, 0.6, 1.1, 1.3, 0.9, 0.5, 0.5, 1.1, 1.6, 1.3, 0.6, 0.3, 0.9, 1.2, 0.5, 0.1, 0.4, 1.0, 1.5, 1.6, 1.8, 2.0, 2.1];
const sawPrInLo = [-2.0, -2.3, -2.2, -2.0, -1.8, -1.6, -1.4, -1.3, -1.2, -1.0, -0.5, -0.3, -0.4, -1.1, -1.3, -0.7, -0.1, 0.2, -0.9, -1.3, -0.6, -0.1, -0.5, -1.8, -1.3, -0.7, -0.3, 0.1, -1.0, -1.7, -2.0, -2.2];
const sawPrS1 = [0.2, -0.1, -0.4, -0.6, -0.9, -1.1, -1.0, -0.7, -0.6, -0.55, 0.05, 0.4, 0.5, 0.0, -0.3, -0.05, 0.55, 1.0, 0.3, -0.3, -0.05, 0.5, 0.3, -1.0, -0.6, -0.1, 0.4, 0.9, 0.6, 0.2, 0.1, 0.4];
const sawPrS2 = [-0.8, -1.3, -1.0, -0.7, -0.3, 0.0, 0.2, 0.0, -0.5, -0.55, 0.0, 0.3, 0.3, -0.3, -0.5, -0.1, 0.55, 1.0, 0.0, -0.5, -0.05, 0.5, 0.1, -1.2, -0.6, -0.1, 0.4, 0.85, 0.2, -0.3, -0.5, -0.2];
const sawPrS3 = [-1.5, -1.6, -1.3, -1.1, -0.7, -0.4, -0.2, -0.3, -0.6, -0.6, 0.1, 0.5, 0.6, 0.2, -0.2, 0.0, 0.55, 0.95, 0.5, 0.0, 0.0, 0.5, 0.5, -0.9, -0.55, -0.1, 0.45, 0.9, 0.8, 0.5, 0.6, 0.7];

const processNames = ['RBF', 'Matern-5/2', 'WeaklyPeriodic', 'Sawtooth'];
const modelNames = ['ConvCNP', 'GPConvCNP', 'Proposed'];

// ---------- helpers ----------
const SERIF = '"Liberation Serif", serif';

function pts(xs, ys) {
  return xs.map((x, i) => ({ x: x, y: ys[i] }));
}

function makeCanvas(left, top, w, h) {
  const c = document.createElement('canvas');
  c.width = w;
  c.height = h;
  c.style.left = left + 'px';
  c.style.top = top + 'px';
  document.body.appendChild(c);
  return c;
}

function text(html, cx, cy, cls) {
  const d = document.createElement('div');
  d.className = 't ' + cls;
  d.innerHTML = html;
  d.style.left = cx + 'px';
  d.style.top = cy + 'px';
  document.body.appendChild(d);
}

function framePlugin(color, width) {
  return {
    id: 'frame',
    afterDraw(chart) {
      const a = chart.chartArea, c = chart.ctx;
      c.save();
      c.strokeStyle = color;
      c.lineWidth = width;
      c.strokeRect(a.left + width / 2, a.top + width / 2, a.right - a.left - width, a.bottom - a.top - width);
      c.restore();
    }
  };
}

const shadePlugin = {
  id: 'shade',
  beforeDraw(chart) {
    const a = chart.chartArea, c = chart.ctx, x = chart.scales.x;
    const x0 = x.getPixelForValue(shadeFrom), x1 = x.getPixelForValue(shadeTo);
    c.save();
    c.fillStyle = '#fff';
    c.fillRect(a.left, a.top, a.right - a.left, a.bottom - a.top);
    c.fillStyle = '#ebebeb';
    c.fillRect(x0, a.top, x1 - x0, a.bottom - a.top);
    c.restore();
  }
};

function baseOptions(extra) {
  return Object.assign({
    responsive: false,
    animation: false,
    devicePixelRatio: 1,
    events: [],
    layout: { padding: 0, autoPadding: false },
    plugins: { legend: { display: false }, tooltip: { enabled: false } }
  }, extra);
}

// ---------- (a) ----------
(function spectral() {
  const colors = ['#ff0000', '#00ff00', '#0000ff', '#111111'];
  const series = [specK1, specK2, specK3, specK4];
  const legend = {
    id: 'specLegend',
    afterDatasetsDraw(chart) {
      const c = chart.ctx;
      c.save();
      c.fillStyle = 'rgba(255,255,255,0.8)';
      c.strokeStyle = '#d0d0d0';
      c.lineWidth = 1;
      c.beginPath();
      c.roundRect(130.5, 84.5, 87, 82, 3);
      c.fill();
      c.stroke();
      c.font = '14px ' + SERIF;
      c.textBaseline = 'middle';
      kernelNames.forEach((name, i) => {
        const y = 96 + i * 20;
        c.strokeStyle = colors[i];
        c.lineWidth = 3.5;
        c.beginPath();
        c.moveTo(135, y);
        c.lineTo(147, y);
        c.stroke();
        c.fillStyle = '#444';
        c.fillText(name, 157, y + 1);
      });
      c.restore();
    }
  };
  new Chart(makeCanvas(7, 2, 225, 176), {
    type: 'line',
    data: {
      datasets: series.map((s, i) => ({
        data: pts(specX, s),
        borderColor: colors[i],
        borderWidth: 4,
        pointRadius: 0,
        tension: 0.4,
        order: 4 - i
      }))
    },
    options: baseOptions({
      scales: {
        x: { type: 'linear', display: false, min: -0.047, max: 1.045 },
        y: { display: false, min: -0.045, max: 1.045 }
      }
    }),
    plugins: [legend, framePlugin('#444', 1.2)]
  });
})();

// ---------- (b)-(e) ----------
function simplexColor(x, y, a) {
  const wb = y, wg = x - 0.5 * y, wr = 1 - wg - wb;
  const f = v => Math.round(235 * Math.min(1, Math.max(0, v)));
  return 'rgba(' + f(wr) + ',' + f(wg) + ',' + f(wb) + ',' + a + ')';
}

function simplexPanel(left, xs, ys, ns, extraPlugins) {
  const cornerColors = ['rgba(255,0,0,0.9)', 'rgba(0,230,0,0.9)', 'rgba(0,0,235,0.9)'];
  const filled = ns === null;
  const scatter = {
    data: pts(xs, ys),
    showLine: false,
    order: 1,
    pointStyle: filled ? 'circle' : ns.map(n => n === 10 ? 'crossRot' : 'circle'),
    pointRadius: filled ? 3 : ns.map(n => n === 10 ? 3.4 : 4.4),
    pointBorderWidth: filled ? 0 : 1,
    pointBorderColor: xs.map((x, i) => simplexColor(x, ys[i], 0.85)),
    pointBackgroundColor: filled ? xs.map((x, i) => simplexColor(x, ys[i], 0.8)) : 'rgba(0,0,0,0)'
  };
  new Chart(makeCanvas(left, 2, 225, 176), {
    type: 'line',
    data: {
      datasets: [
        { data: pts(cornerX, cornerY), showLine: false, pointRadius: 7, pointBorderWidth: 0, pointBackgroundColor: cornerColors, order: 0 },
        scatter,
        { data: pts(edgeX, edgeY), borderColor: '#c8c8c8', borderWidth: 5, pointRadius: 0, order: 3 }
      ]
    },
    options: baseOptions({
      scales: {
        x: { type: 'linear', display: false, min: -0.1, max: 1.09 },
        y: { display: false, min: -0.081, max: 1.074 }
      }
    }),
    plugins: [framePlugin('#666', 1.2)].concat(extraPlugins || [])
  });
}

simplexPanel(259, rbfSimX, rbfSimY, null);
simplexPanel(513, matSimX, matSimY, matSimN);
simplexPanel(765, wpSimX, wpSimY, wpSimN);

const simLegend = {
  id: 'simLegend',
  afterDraw(chart) {
    const c = chart.ctx;
    const colors = ['rgb(255,0,0)', 'rgb(0,230,0)', 'rgb(0,0,235)'];
    c.save();
    c.fillStyle = 'rgba(255,255,255,0.85)';
    c.strokeStyle = '#d0d0d0';
    c.lineWidth = 1;
    c.beginPath();
    c.roundRect(135.5, 6.5, 82, 99, 3);
    c.fill();
    c.stroke();
    c.textBaseline = 'middle';
    const tx = 161;
    kernelNames.slice(0, 3).forEach((name, i) => {
      const y = 17.5 + i * 19;
      c.fillStyle = colors[i];
      c.beginPath();
      c.arc(145, y, 6.5, 0, Math.PI * 2);
      c.fill();
      c.fillStyle = '#444';
      c.font = '14px ' + SERIF;
      c.fillText(name, tx, y + 1);
    });
    simLegendN.forEach((n, i) => {
      const y = 75 + i * 19;
      c.strokeStyle = 'rgb(40,200,40)';
      c.lineWidth = 1.1;
      c.beginPath();
      if (n === 10) {
        c.moveTo(142, y - 3); c.lineTo(148, y + 3);
        c.moveTo(148, y - 3); c.lineTo(142, y + 3);
      } else {
        c.arc(145, y, 4.2, 0, Math.PI * 2);
      }
      c.stroke();
      c.fillStyle = '#444';
      c.font = 'italic 14px ' + SERIF;
      c.fillText('N', tx, y + 1);
      const wN = c.measureText('N').width;
      c.font = 'italic 9px ' + SERIF;
      c.fillText('c', tx + wN + 0.5, y - 4);
      const wc = c.measureText('c').width;
      c.font = '14px ' + SERIF;
      c.fillText('=' + n, tx + wN + wc + 1.5, y + 1);
    });
    c.restore();
  }
};
simplexPanel(1018, sawSimX, sawSimY, sawSimN, [simLegend]);

text(vertexLabels[2], 342, 27, 'vlab');
text(vertexLabels[0], 305, 145, 'vlab');
text(vertexLabels[1], 441, 145, 'vlab');

text('<b>(a)</b>&nbsp; Spectral density', 119, 212, 'cap');
text('<b>(b)</b>&nbsp; RBF', 371, 212, 'cap');
text('<b>(c)</b>&nbsp; Matern-<span class="frac"><span>5</span><span>2</span></span>', 626, 212, 'cap');
text('<b>(d)</b>&nbsp; Weakly Periodic', 878, 212, 'cap');
text('<b>(e)</b>&nbsp; Sawtooth', 1131, 212, 'cap');

// ---------- (f) ----------
const colLeft = [27, 328, 629, 930];
const rowTop = [263, 357, 451];
const rowH = [85, 85, 86];
const panelW = 297;
const tickSpace = 22;

const BAND = 'rgba(31,119,180,0.55)';
const OUTER = 'rgba(31,119,180,0.22)';
const INNER = 'rgba(31,119,180,0.34)';

function bandSets(xs, lo, hi, color, order, tension) {
  return [
    { data: pts(xs, hi), borderWidth: 0, pointRadius: 0, backgroundColor: color, fill: '+1', order: order, tension: tension },
    { data: pts(xs, lo), borderWidth: 0, pointRadius: 0, fill: false, order: order, tension: tension }
  ];
}

function lineSet(xs, ys, color, width, order, tension) {
  return { data: pts(xs, ys), borderColor: color, borderWidth: width, pointRadius: 0, fill: false, order: order, tension: tension };
}

function ctxSet(xs, ys) {
  return { data: pts(xs, ys), showLine: false, pointRadius: 4.2, pointBorderWidth: 0, pointBackgroundColor: 'rgba(22,32,44,0.8)', order: 0 };
}

function gridPanel(col, row, sets) {
  const bottom = row === 2;
  const h = rowH[row] + (bottom ? tickSpace : 0);
  new Chart(makeCanvas(colLeft[col], rowTop[row], panelW, h), {
    type: 'line',
    data: { datasets: sets },
    options: baseOptions({
      scales: {
        x: {
          type: 'linear', min: 2.75, max: 8.1,
          border: { display: false },
          grid: { color: '#c6c6c6', lineWidth: 1, drawTicks: false },
          ticks: { display: bottom, stepSize: 1, includeBounds: false, padding: 9, maxRotation: 0, color: '#555', font: { family: SERIF, size: 11 } },
          afterFit(scale) {
            scale.height = bottom ? tickSpace : 0;
            scale.paddingLeft = 0;
            scale.paddingRight = 0;
          }
        },
        y: { display: false, min: -3, max: 3 }
      }
    }),
    plugins: [shadePlugin, framePlugin('#4a4a4a', 1.6)]
  });
}

const columns = [
  {
    truth: [fineX, rbfTruth, 0.2], ctx: [rbfCtxX, rbfCtxY], x: rbfX, t: 0.4,
    conv: [rbfConvMean, rbfConvLo, rbfConvHi],
    gp: [rbfGpOutLo, rbfGpOutHi, rbfGpInLo, rbfGpInHi, rbfGpS1, rbfGpS2, rbfGpS3],
    pr: [rbfPrOutLo, rbfPrOutHi, rbfPrInLo, rbfPrInHi, rbfPrS1, rbfPrS2, rbfPrS3]
  },
  {
    truth: [matTruthX, matTruthY, 0.25], ctx: [matCtxX, matCtxY], x: fineX, t: 0.35,
    conv: [matConvMean, matConvLo, matConvHi],
    gp: [matGpOutLo, matGpOutHi, matGpInLo, matGpInHi, matGpS1, matGpS2, matGpS3],
    pr: [matPrOutLo, matPrOutHi, matPrInLo, matPrInHi, matPrS1, matPrS2, matPrS3]
  },
  {
    truth: [wpTruthX, wpTruthY, 0.2], ctx: [wpCtxX, wpCtxY], x: wpX, t: 0.3,
    conv: [wpConvMean, wpConvLo, wpConvHi],
    gp: [wpGpOutLo, wpGpOutHi, wpGpInLo, wpGpInHi, wpGpS1, wpGpS2, wpGpS3],
    pr: [wpPrOutLo, wpPrOutHi, wpPrInLo, wpPrInHi, wpPrS1, wpPrS2, wpPrS3]
  },
  {
    truth: [sawTruthX, sawTruthY, 0], ctx: [sawCtxX, sawCtxY], x: sawX, t: 0.25,
    conv: [sawConvMean, sawConvLo, sawConvHi],
    gp: [sawGpOutLo, sawGpOutHi, sawGpInLo, sawGpInHi, sawGpS1, sawGpS2, sawGpS3],
    pr: [sawPrOutLo, sawPrOutHi, sawPrInLo, sawPrInHi, sawPrS1, sawPrS2, sawPrS3]
  }
];

columns.forEach((p, col) => {
  const truth = lineSet(p.truth[0], p.truth[1], 'rgba(70,70,70,0.85)', 1.8, 2, p.truth[2]);
  const ctx = ctxSet(p.ctx[0], p.ctx[1]);

  gridPanel(col, 0, [ctx, lineSet(p.x, p.conv[0], '#1f77b4', 2, 1, p.t), truth]
    .concat(bandSets(p.x, p.conv[1], p.conv[2], BAND, 5, p.t)));

  [p.gp, p.pr].forEach((m, k) => {
    gridPanel(col, k + 1, [
      ctx,
      lineSet(p.x, m[4], 'rgba(31,119,180,0.9)', 1.5, 1, p.t),
      lineSet(p.x, m[5], 'rgba(55,135,195,0.85)', 1.4, 1, p.t),
      lineSet(p.x, m[6], 'rgba(70,145,200,0.85)', 1.4, 1, p.t),
      truth
    ].concat(bandSets(p.x, m[2], m[3], INNER, 4, p.t))
     .concat(bandSets(p.x, m[0], m[1], OUTER, 5, p.t)));
  });
});

processNames.forEach((name, i) => text(name, colLeft[i] + panelW / 2, 252, 'ttl'));
modelNames.forEach((name, i) => text(name, 14, rowTop[i] + rowH[i] / 2, 'row'));

text('<b>(f)</b>&nbsp; Predictive distribution of each baseline on each process (<i>N</i><sup style="font-size:14px"><i>c</i></sup> = 15)', 618, 591, 'cap');
</script>
</body>
</html>
